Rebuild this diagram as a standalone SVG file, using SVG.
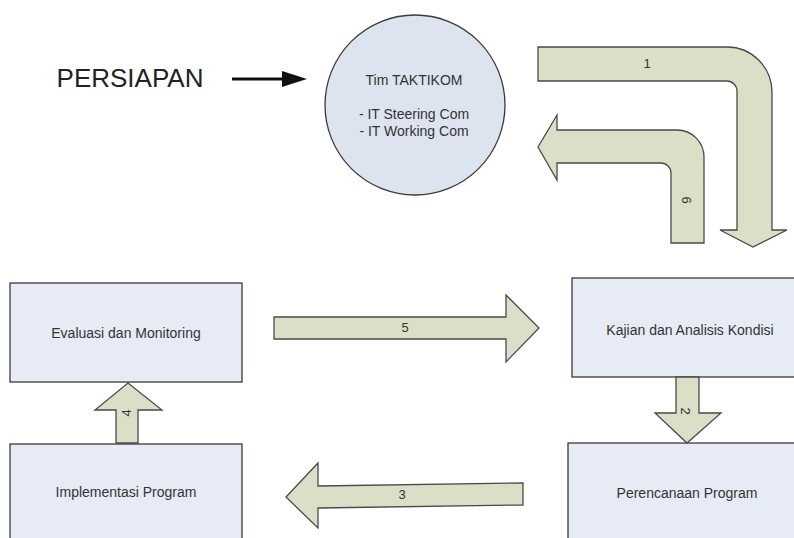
<svg xmlns="http://www.w3.org/2000/svg" width="794" height="538" viewBox="0 0 794 538">
<style>
  .box { fill: #e6ebf5; stroke: #3a3a3a; stroke-width: 1.3; }
  .arr { fill: #dcdfc7; stroke: #4a4a4a; stroke-width: 1.3; stroke-linejoin: miter; }
  .t { font-family: "Liberation Sans", Arial, sans-serif; font-size: 14px; fill: #333; text-anchor: middle; }
  .lbl { font-family: "Liberation Sans", Arial, sans-serif; font-size: 13px; fill: #333; text-anchor: middle; }
</style>
<rect width="794" height="538" fill="#ffffff"/>
<g id="persiapan">
  <text x="130" y="87" font-family="Liberation Sans, Arial, sans-serif" font-size="26" fill="#222" text-anchor="middle">PERSIAPAN</text>
</g>
<g id="tim-taktikom">
  <circle cx="415" cy="105" r="90" fill="#dde4f0" stroke="#3a3a3a" stroke-width="1.3"/>
  <text class="t" x="414" y="85">Tim TAKTIKOM</text>
  <text class="t" x="414" y="119">- IT Steering Com</text>
  <text class="t" x="414" y="136">- IT Working Com</text>
</g>
<g id="evaluasi">
  <rect class="box" x="10" y="283" width="232" height="99"/>
  <text class="t" x="126" y="338">Evaluasi dan Monitoring</text>
</g>
<g id="implementasi">
  <rect class="box" x="10" y="444" width="232" height="100"/>
  <text class="t" x="126" y="497">Implementasi Program</text>
</g>
<g id="kajian">
  <rect class="box" x="572" y="278" width="230" height="99"/>
  <text class="t" x="690" y="335">Kajian dan Analisis Kondisi</text>
</g>
<g id="perencanaan">
  <rect class="box" x="568" y="443" width="230" height="100"/>
  <text class="t" x="687" y="498">Perencanaan Program</text>
</g>
<g id="connectors">
  <line x1="232" y1="79" x2="288" y2="79" stroke="#111" stroke-width="3"/>
  <path d="M282,71 L307,79 L282,87 Z" fill="#111"/>
  <path class="arr" d="M538,47 H727 A45,45 0 0 1 772,92 V230 H787 L753,247 L720,230 H737 V91 A10,10 0 0 0 727,81 H538 Z"/>
  <text class="lbl" x="647" y="68">1</text>
  <path class="arr" d="M538,147 L557,115 V130 H677 A27,27 0 0 1 704,157 V243 H671 V173 A10,10 0 0 0 661,163 H557 V180 Z"/>
  <text class="lbl" transform="translate(687,200) rotate(90)" x="0" y="5">6</text>
  <path class="arr" d="M274,317 H506 V295 L539,328 L506,362 V339 H274 Z"/>
  <text class="lbl" x="405" y="332">5</text>
  <path class="arr" d="M676,377 H699 V413 H721 L687,443 L655,413 H676 Z"/>
  <text class="lbl" transform="translate(686,411) rotate(90)" x="0" y="5">2</text>
  <path class="arr" d="M523,483 L523,505 L318,508 L318,528 L286,497 L318,463 L318,486 Z"/>
  <text class="lbl" x="402" y="499">3</text>
  <path class="arr" d="M116,443 V410 H95 L128,383 L162,410 H138 V443 Z"/>
  <text class="lbl" transform="translate(126,413) rotate(-90)" x="0" y="5">4</text>
</g>
</svg>
